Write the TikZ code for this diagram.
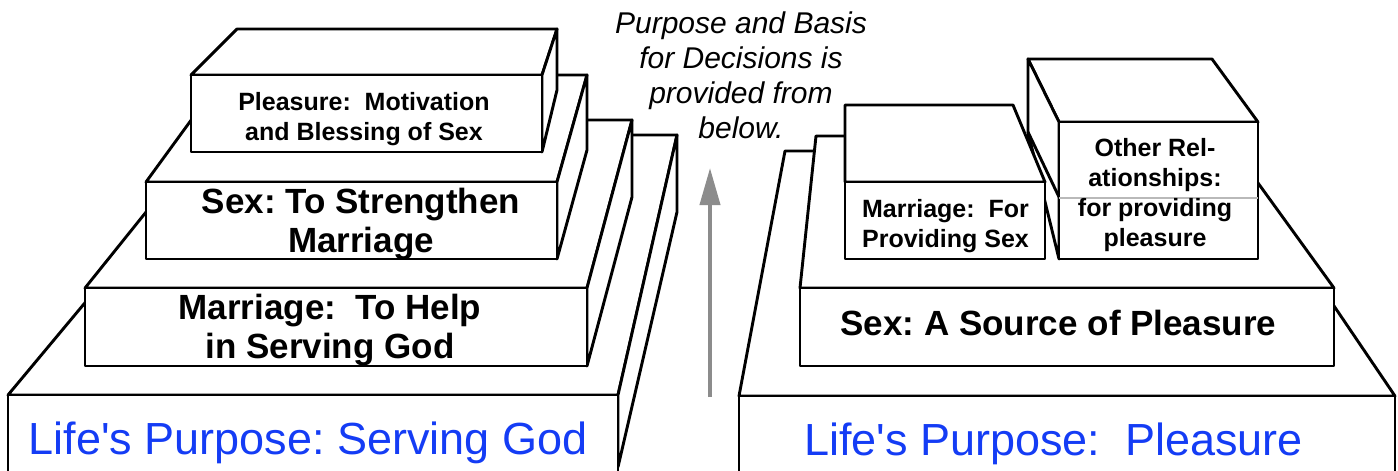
\documentclass[tikz,border=0pt]{standalone}
\usepackage{fontspec}
\setmainfont{Liberation Sans}
\usetikzlibrary{arrows.meta}
\definecolor{lifeblue}{RGB}{20,60,245}
\definecolor{arrowgrey}{RGB}{140,140,140}
\frenchspacing
\begin{document}
\begin{tikzpicture}[x=1pt,y=-1pt,
  face/.style={draw=black, fill=white, line width=2.9pt, line join=round},
  edge/.style={draw=black, line width=2.9pt, line cap=round},
  bigtxt/.style={font=\fontsize{45}{50}\selectfont, text=lifeblue, inner sep=0pt, anchor=base},
  midtxt/.style={font=\fontsize{35}{38.5}\selectfont\bfseries, align=center, inner sep=0pt, anchor=base},
  smalltxt/.style={font=\fontsize{25}{30}\selectfont\bfseries, align=center, inner sep=0pt, anchor=base},
  notetxt/.style={font=\fontsize{30}{35}\selectfont\itshape, align=center, inner sep=0pt, anchor=base},
]
\useasboundingbox (0,0) rectangle (1398,471);
\clip (0,0) rectangle (1398,471);
\fill[white] (0,0) rectangle (1398,471);

% ---------- left stack ----------
% bottom box
\draw[face] (8,395) -- (225,135) -- (677,135) -- (618,395) -- cycle;
\draw[face] (618,395) -- (677,135) -- (677,212) -- (618,467) -- cycle;
\draw[face] (8,395) rectangle (618,520);
% marriage box
\draw[face] (85,288) -- (220,120) -- (632,120) -- (587,288) -- cycle;
\draw[face] (587,288) -- (632,120) -- (632,197) -- (587,366) -- cycle;
\draw[face] (85,288) rectangle (587,366);
% sex box
\draw[face] (146,182) -- (224,75) -- (587,75) -- (557,182) -- cycle;
\draw[face] (557,182) -- (587,75) -- (587,150) -- (557,259) -- cycle;
\draw[face] (146,182) rectangle (557,259);
% pleasure box
\draw[face] (191,75) -- (237,29) -- (557,29) -- (542,75) -- cycle;
\draw[face] (542,75) -- (557,29) -- (557,90) -- (542,152) -- cycle;
\draw[face] (191,75) rectangle (542,152);

% ---------- right stack ----------
\draw[face] (739,396) -- (785,151) -- (1229,151) -- (1395,396) -- cycle;
\draw[face] (739,396) rectangle (1395,520);
\draw[face] (800,288) -- (816,136) -- (1224,136) -- (1334,288) -- cycle;
\draw[face] (800,288) rectangle (1334,366);
% other relationships box
\draw[face] (1059,122) -- (1028,59) -- (1212,59) -- (1258,122) -- cycle;
\draw[face] (1028,59) -- (1028,132) -- (1059,259) -- (1059,122) -- cycle;
\draw[edge] (1028,132) -- (1059,197);
\draw[face] (1059,122) rectangle (1258,259);
\draw[gray!55, line width=1.5pt] (1059,198) -- (1258,198);
% marriage box (right)
\draw[face] (845,182) -- (845,105) -- (1013,105) -- (1045,182) -- cycle;
\draw[face] (845,182) rectangle (1045,259);

% ---------- arrow ----------
\coordinate (arrowtail) at (710,397);
\coordinate (arrowtip) at (710,168);
\draw[arrowgrey, line width=4pt, -{Triangle[width=20pt,length=37pt]}] (arrowtail) -- (arrowtip);

% ---------- texts (base anchor = last line baseline) ----------
\node[bigtxt] (lifeL) at (308,454) {Life\textquotesingle s Purpose: Serving God};
\node[bigtxt] (lifeR) at (1053.5,455) {Life\textquotesingle s Purpose:\ \ Pleasure};
\node[midtxt] (marL) at (330,358) {Marriage:\ \ To Help\\in Serving God};
\node[midtxt] (sexL) at (361,252) {Sex: To Strengthen\\Marriage};
\node[smalltxt] (plL) at (364,140) {Pleasure:\ \ Motivation\\and Blessing of Sex};
\node[notetxt] (note) at (741,138) {Purpose and Basis\\for Decisions is\\provided from\\below.};
\node[midtxt] (sexR) at (1058.5,335) {Sex: A Source of Pleasure};
\node[smalltxt] (marR) at (945.5,247) {Marriage:\ \ For\\Providing Sex};
\node[smalltxt] (othR) at (1155,246.5) {Other Rel-\\ationships:\\for providing\\pleasure};
\end{tikzpicture}
\end{document}
